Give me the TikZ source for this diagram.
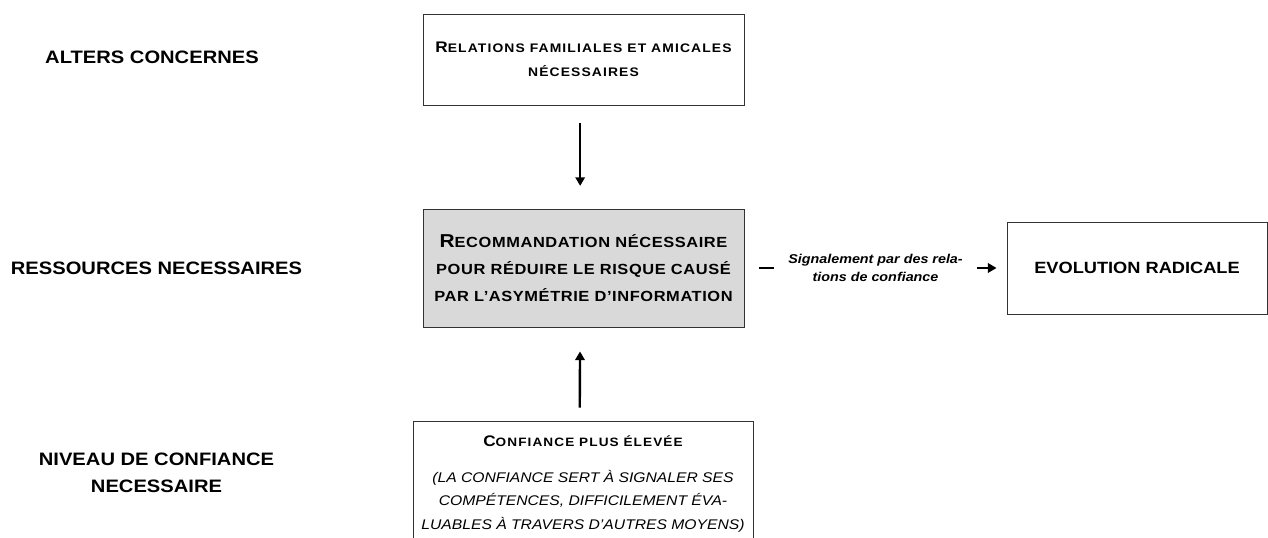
\documentclass[tikz,border=0pt]{standalone}
\usepackage{fontspec}
\setmainfont{Liberation Sans}[FakeStretch=1.12]
\usetikzlibrary{positioning,arrows.meta}
\newcommand{\capinit}[2]{{\fontsize{#1}{#1}\selectfont #2}}
\newcommand{\spaced}[1]{{\addfontfeature{LetterSpace=9}#1}}
\begin{document}
\begin{tikzpicture}[
    x=0.75pt, y=-0.75pt,
    levellabel/.style={
        font=\bfseries\fontsize{13.5}{20}\selectfont,
        align=center
    },
    conceptbox/.style={
        draw=black!80,
        line width=0.6pt,
        minimum width=240.75pt,
        align=center,
        inner sep=4pt
    },
    influence/.style={
        ->,
        >={Triangle[length=6.5pt,width=7pt]},
        line width=1.8pt
    }
]
    \useasboundingbox (0,0) rectangle (1268,538);

    % niveaux a gauche
    \node[levellabel] (alters) at (152,57) {ALTERS CONCERNES};
    \node[levellabel] (ressources) at (156.5,268) {RESSOURCES NECESSAIRES};
    \node[levellabel] (niveau) at (156.5,473) {NIVEAU DE CONFIANCE\\NECESSAIRE};

    % boites
    \node[conceptbox, minimum height=68.25pt,
        font=\bfseries\fontsize{9.3}{18}\selectfont] (relations) at (583.5,59.5)
        {\spaced{\capinit{11.5}{R}ELATIONS FAMILIALES ET AMICALES}\\\spaced{NÉCESSAIRES}};
    \node[conceptbox, minimum height=88.5pt, fill=black!15,
        font=\bfseries\fontsize{11}{20}\selectfont\addfontfeature{LetterSpace=4}] (recommandation) at (583.5,268)
        {\capinit{14}{R}ECOMMANDATION NÉCESSAIRE\\POUR RÉDUIRE LE RISQUE CAUSÉ\\PAR L’ASYMÉTRIE D’INFORMATION};
    \node[conceptbox, minimum width=195pt, minimum height=69pt,
        font=\bfseries\fontsize{12.2}{16}\selectfont] (evolution) at (1137,268)
        {EVOLUTION RADICALE};
    \node[conceptbox, minimum width=255pt, anchor=north, inner ysep=11pt,
        font=\fontsize{10.5}{17.6}\selectfont] (confiance) at (583,421)
        {{\bfseries\fontsize{9.1}{17.6}\selectfont\spaced{\capinit{11.5}{C}ONFIANCE PLUS ÉLEVÉE}}\\[9pt]
        \textit{(LA CONFIANCE SERT À SIGNALER SES}\\
        \textit{COMPÉTENCES, DIFFICILEMENT ÉVA-}\\
        \textit{LUABLES À TRAVERS D’AUTRES MOYENS)}};

    % liens
    \draw[influence, shorten <=13pt, shorten >=17pt]
        ([xshift=-2.5pt]relations.south) -- ([xshift=-2.5pt]recommandation.north);
    \draw[influence, shorten <=10pt, shorten >=18pt]
        ([xshift=-2.5pt]confiance.north) -- ([xshift=-2.5pt]recommandation.south);
    \draw[influence, shorten <=11pt, shorten >=7.5pt] (recommandation) --
        node[fill=white, inner xsep=11pt, align=center,
            font=\bfseries\itshape\fontsize{9.6}{14}\selectfont]
        {Signalement par des rela-\\tions de confiance}
        (evolution);
\end{tikzpicture}
\end{document}
